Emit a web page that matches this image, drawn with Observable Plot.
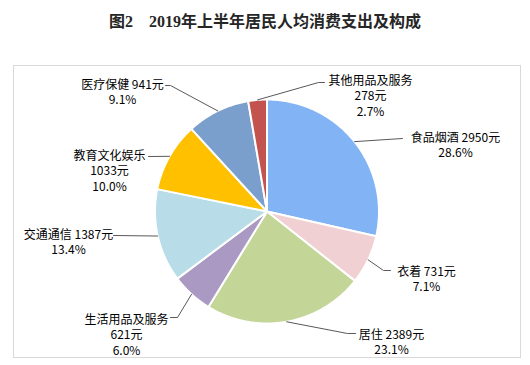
<!DOCTYPE html>
<html><head><meta charset="utf-8">
<script src="https://cdn.jsdelivr.net/npm/d3@7"></script>
<script src="https://cdn.jsdelivr.net/npm/@observablehq/plot@0.6"></script>
<style>
body{margin:0;background:#fff;width:530px;height:365px;overflow:hidden}
#title{height:44px;line-height:44px;text-align:center;font-weight:bold;font-size:16px;font-family:"Liberation Serif","Noto Sans CJK SC",serif;color:#262626;white-space:pre}
</style></head><body>
<div id="title">图2　2019年上半年居民人均消费支出及构成</div>
<div id="chart"></div>
<script>
// ---- data ----
const categories = ["食品烟酒","衣着","居住","生活用品及服务","交通通信","教育文化娱乐","医疗保健","其他用品及服务"];
const values = [2950, 731, 2389, 621, 1387, 1033, 941, 278];
const shares = ["28.6%","7.1%","23.1%","6.0%","13.4%","10.0%","9.1%","2.7%"];
const colors = ["#82b3f5","#f0d0d2","#c3d597","#aa9ac3","#b8dde8","#ffc000","#7b9fcc","#c3534f"];

// ---- layout (page pixels) ----
const cx = 266.5, cy = 211, R = 112;
const labelFirstLine = [[455,135],[426,269],[391,332],[126,317],[68,232],[109,153],[122,82],[370,78]];
const stacked = [false,false,false,true,false,true,false,true];
const leaderTail = [
  [[402,138]],
  [[383,270],[390,270]],
  [[347,333],[355,333]],
  [[177,317],[170,317]],
  [[113,235]],
  [[148,156]],
  [[170,85],[165,85]],
  [[318,82],[324,82]]
];

const total = d3.sum(values);
const arcs = d3.pie().sort(null).value(d => d)(values);
const pt = (a, r) => [cx + r * Math.sin(a), cy - r * Math.cos(a)];

const slicePts = [];
arcs.forEach((a, i) => {
  slicePts.push({cat: categories[i], x: cx, y: cy});
  const n = Math.max(2, Math.ceil((a.endAngle - a.startAngle) / 0.01));
  for (let k = 0; k <= n; k++) {
    const t = a.startAngle + (a.endAngle - a.startAngle) * k / n;
    const [x, y] = pt(t, R);
    slicePts.push({cat: categories[i], x, y});
  }
});

const leaderPts = [];
arcs.forEach((a, i) => {
  const mid = (a.startAngle + a.endAngle) / 2;
  const [x, y] = pt(mid, R);
  leaderPts.push({cat: categories[i], x, y});
  leaderTail[i].forEach(([px, py]) => leaderPts.push({cat: categories[i], x: px, y: py}));
});

const labels = categories.map((c, i) => ({
  x: labelFirstLine[i][0],
  y: labelFirstLine[i][1] - 5,
  text: stacked[i] ? `${c}\n${values[i]}元\n${shares[i]}` : `${c} ${values[i]}元\n${shares[i]}`
}));

const chart = Plot.plot({
  width: 530,
  height: 321,
  marginLeft: 13,
  marginRight: 10,
  marginTop: 21,
  marginBottom: 8,
  x: {axis: null, domain: [13, 520]},
  y: {axis: null, domain: [357, 65]},
  color: {domain: categories, range: colors},
  style: {fontFamily: "'Noto Sans CJK SC', sans-serif", background: "#fff"},
  marks: [
    Plot.frame({stroke: "#d9d9d9"}),
    Plot.line(slicePts, {x: "x", y: "y", z: "cat", fill: "cat", stroke: "#fff", strokeWidth: 2, curve: "linear-closed", strokeLinejoin: "round"}),
    Plot.line(leaderPts, {x: "x", y: "y", z: "cat", stroke: "#595959", strokeWidth: 1}),
    Plot.text(labels, {x: "x", y: "y", text: "text", fontSize: 12, lineAnchor: "top", lineHeight: 1.3, textAnchor: "middle", fill: "#000"})
  ]
});
document.getElementById("chart").appendChild(chart);
</script>
</body></html>
